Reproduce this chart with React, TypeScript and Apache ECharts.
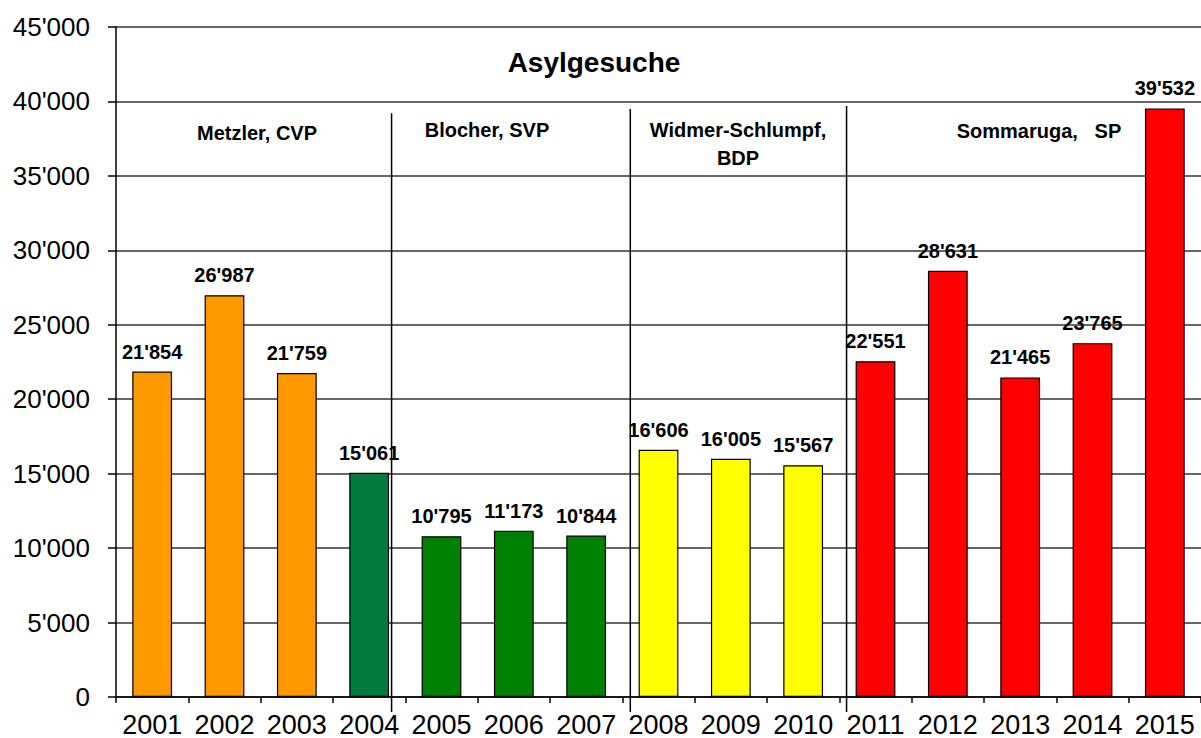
import React, { useEffect, useRef } from "react";
import * as echarts from "echarts";

const years = ["2001", "2002", "2003", "2004", "2005", "2006", "2007", "2008", "2009", "2010", "2011", "2012", "2013", "2014", "2015"];
const asylumApplications = [21854, 26987, 21759, 15061, 10795, 11173, 10844, 16606, 16005, 15567, 22551, 28631, 21465, 23765, 39532];
const yMin = 0;
const yMax = 45000;
const yInterval = 5000;
const chartTitle = "Asylgesuche";
const periodLabels = ["Metzler, CVP", "Blocher, SVP", "Widmer-Schlumpf,\nBDP", "Sommaruga,   SP"];
// index of the last year of each period (separator drawn after it)
const periodEnds = [3, 6, 9];

const barColors = [
  "#FF9900", "#FF9900", "#FF9900",
  "#007A3D",
  "#008000", "#008000", "#008000",
  "#FFFF00", "#FFFF00", "#FFFF00",
  "#FF0000", "#FF0000", "#FF0000", "#FF0000", "#FF0000",
];

const FONT = "Arial, 'Liberation Sans', sans-serif";

function fmt(n: number): string {
  return String(n).replace(/\B(?=(\d{3})+(?!\d))/g, "'");
}

export default function App() {
  const ref = useRef<HTMLDivElement>(null);

  useEffect(() => {
    if (!ref.current) return;
    const chart = echarts.init(ref.current, undefined, { renderer: "svg" });
    chart.setOption({
      animation: false,
      backgroundColor: "#ffffff",
      grid: { left: 116, top: 27, width: 1086, bottom: 41, containLabel: false },
      xAxis: {
        type: "category",
        data: years,
        axisLine: { show: true, lineStyle: { color: "#000", width: 1.5 } },
        axisTick: { show: true, length: 6, lineStyle: { color: "#000", width: 1.5 } },
        axisLabel: { color: "#000", fontSize: 27, fontFamily: FONT, margin: 14, interval: 0 },
        splitLine: { show: false },
      },
      yAxis: {
        type: "value",
        min: yMin,
        max: yMax,
        interval: yInterval,
        axisLine: { show: true, lineStyle: { color: "#000", width: 1.5 } },
        axisTick: { show: true, length: 8, lineStyle: { color: "#000", width: 1.5 } },
        axisLabel: { color: "#000", fontSize: 26, fontFamily: FONT, margin: 26, formatter: (v: number) => fmt(v) },
        splitLine: { show: true, lineStyle: { color: "#333", width: 1.5 } },
      },
      series: [
        {
          type: "bar",
          data: asylumApplications.map((v, i) => ({ value: v, itemStyle: { color: barColors[i] } })),
          barWidth: "55%",
          itemStyle: { borderColor: "#000", borderWidth: 1.2 },
          label: {
            show: true,
            position: "top",
            distance: 10,
            color: "#000",
            fontSize: 20,
            fontWeight: "bold",
            fontFamily: FONT,
            formatter: (p: any) => fmt(p.value),
          },
        },
      ],
    });

    const px = (cat: string) => chart.convertToPixel({ xAxisIndex: 0 }, cat) as number;
    const py = (v: number) => chart.convertToPixel({ yAxisIndex: 0 }, v) as number;
    const catW = px(years[1]) - px(years[0]);
    const sepFrac = [0.31, 0.61, 0.6];
    const sepTop = [39200, 39500, 39700];
    const yBottom = py(0) + 15;

    const separators = periodEnds.map((idx, k) => {
      const x = px(years[idx]) + sepFrac[k] * catW;
      return {
        type: "line",
        shape: { x1: x, y1: py(sepTop[k]), x2: x, y2: yBottom },
        style: { stroke: "#000", lineWidth: 1.5 },
        z: 10,
      };
    });

    const labelPos = [
      [257, 133],
      [487, 130],
      [738, 144],
      [1039, 131],
    ];
    const periodTexts = periodLabels.map((t, k) => ({
      type: "text",
      x: labelPos[k][0],
      y: labelPos[k][1],
      z: 10,
      style: {
        text: t,
        fill: "#000",
        fontSize: 20,
        fontWeight: "bold",
        fontFamily: FONT,
        lineHeight: 28,
        align: "center",
        verticalAlign: "middle",
      },
    }));

    chart.setOption({
      graphic: [
        ...separators,
        ...periodTexts,
        {
          type: "text",
          x: 594,
          y: 62,
          z: 10,
          style: {
            text: chartTitle,
            fill: "#000",
            fontSize: 28,
            fontWeight: "bold",
            fontFamily: FONT,
            align: "center",
            verticalAlign: "middle",
          },
        },
      ],
    });

    return () => chart.dispose();
  }, []);

  return (
    <div
      ref={ref}
      style={{ position: "fixed", left: 0, top: 0, width: 1201, height: 738, background: "#fff" }}
    />
  );
}
